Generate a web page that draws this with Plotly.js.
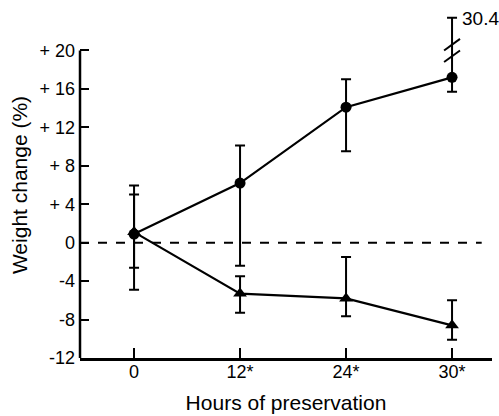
<!DOCTYPE html>
<html>
<head>
<meta charset="utf-8">
<script src="https://cdn.plot.ly/plotly-3.0.1.min.js"></script>
<style>html,body{margin:0;padding:0;background:#fff;}#chart{width:499px;height:416px;}</style>
</head>
<body>
<div id="chart"></div>
<script>
// Categories (hours of preservation)
const hours = ["0", "12*", "24*", "30*"];

// Circle series (weight gain)
const circMean  = [0.9, 6.2, 14.1, 17.2];
const circUpper = [5.0, 10.1, 17.0, 30.4];
const circLower = [-2.6, -2.4, 9.5, 15.7];

// Triangle series (weight loss)
const triMean  = [1.1, -5.3, -5.8, -8.6];
const triUpper = [5.95, -3.5, -1.5, -6.0];
const triLower = [-4.9, -7.3, -7.65, -10.1];

// Y tick labels
const yTickVals = [-12, -8, -4, 0, 4, 8, 12, 16, 20];
const yTickText = ["-12", "-8", "-4", "0", "+ 4", "+ 8", "+ 12", "+ 16", "+ 20"];

// Axis break: values above the axis top are drawn at this position
const axisTop = 20;
const breakShownAt = 23.4;

const shownUpper = circUpper.map(v => v > axisTop ? breakShownAt : v);
const FONT = "Liberation Sans, Arial, sans-serif";

const circTrace = {
  x: hours, y: circMean, type: "scatter", mode: "lines+markers",
  line: {color: "#000", width: 2.2},
  marker: {symbol: "circle", size: 11, color: "#000"},
  error_y: {type: "data", symmetric: false,
    array: shownUpper.map((u, i) => u - circMean[i]),
    arrayminus: circLower.map((l, i) => circMean[i] - l),
    color: "#000", thickness: 2, width: 5},
  cliponaxis: false, hoverinfo: "skip"
};
const triTrace = {
  x: hours, y: triMean, type: "scatter", mode: "lines+markers",
  line: {color: "#000", width: 2.2},
  marker: {symbol: "triangle-up", size: 12, color: "#000"},
  error_y: {type: "data", symmetric: false,
    array: triUpper.map((u, i) => u - triMean[i]),
    arrayminus: triLower.map((l, i) => triMean[i] - l),
    color: "#000", thickness: 2, width: 5},
  cliponaxis: false, hoverinfo: "skip"
};

const brokenIdx = circUpper.findIndex(v => v > axisTop);
const shapes = [
  // y axis line from -12 to +20
  {type: "line", xref: "paper", yref: "y", x0: 0, x1: 0, y0: yTickVals[0], y1: axisTop,
   line: {color: "#000", width: 2.5}},
  // dashed zero line
  {type: "line", xref: "paper", yref: "y", x0: 0, x1: 0.975, y0: 0, y1: 0,
   line: {color: "#000", width: 2, dash: "dash"}}
];
// break marks on the broken error bar
[19.4, 20.6].forEach(yc => {
  shapes.push({type: "line", xref: "x", yref: "y",
    x0: brokenIdx - 0.075, x1: brokenIdx + 0.075, y0: yc - 0.6, y1: yc + 0.6,
    line: {color: "#000", width: 2}});
});

const layout = {
  width: 499, height: 416,
  margin: {l: 80, r: 7, t: 12, b: 58},
  paper_bgcolor: "#fff", plot_bgcolor: "#fff",
  showlegend: false,
  font: {family: FONT, color: "#000", size: 18},
  xaxis: {
    type: "category", range: [-0.51, 3.377],
    showline: true, linecolor: "#000", linewidth: 2.5,
    ticks: "inside", ticklen: 10, tickwidth: 2, tickcolor: "#000",
    showgrid: false, zeroline: false,
    ticklabelstandoff: -4,
    tickfont: {family: FONT, size: 18, color: "#000"},
    title: {text: "Hours of preservation", font: {family: FONT, size: 21, color: "#000"}, standoff: 14}
  },
  yaxis: {
    range: [-12, 24],
    showline: false,
    tickvals: yTickVals, ticktext: yTickText,
    ticks: "inside", ticklen: 9, tickwidth: 2, tickcolor: "#000",
    showgrid: false, zeroline: false,
    ticklabelstandoff: 4,
    tickfont: {family: FONT, size: 18, color: "#000"},
    title: {text: "Weight change (%)", font: {family: FONT, size: 21, color: "#000"}, standoff: 6}
  },
  shapes: shapes,
  annotations: [{
    x: hours[brokenIdx], y: breakShownAt, xref: "x", yref: "y",
    text: String(circUpper[brokenIdx]), showarrow: false,
    xanchor: "left", yanchor: "middle", xshift: 8, yshift: -1,
    font: {family: FONT, size: 19, color: "#000"}
  }]
};

Plotly.newPlot("chart", [triTrace, circTrace], layout, {displayModeBar: false, staticPlot: true});
</script>
</body>
</html>
